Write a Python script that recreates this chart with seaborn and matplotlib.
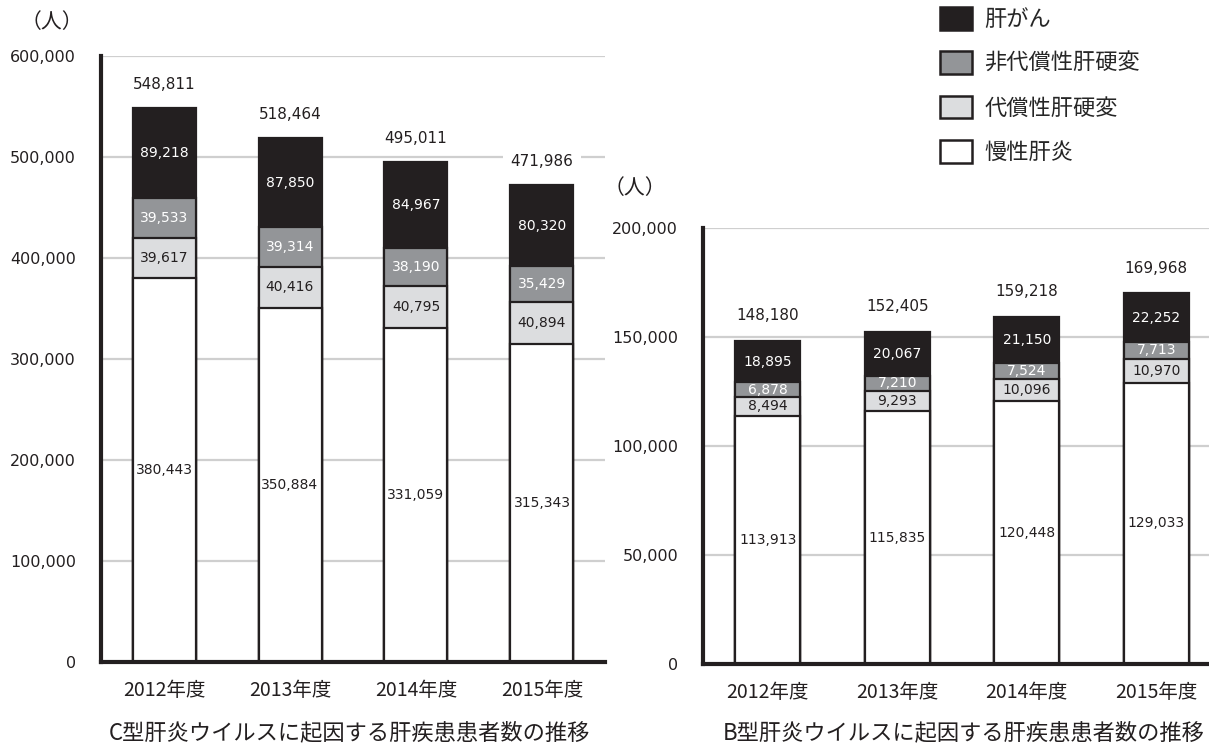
import numpy as np
import pandas as pd
import matplotlib
matplotlib.use("Agg")
import matplotlib.pyplot as plt
from matplotlib.patches import Patch
from matplotlib.ticker import FuncFormatter
import seaborn as sns

# ---- data -------------------------------------------------------------
years = ["2012年度", "2013年度", "2014年度", "2015年度"]
# stacking order: bottom -> top
series_names = ["慢性肝炎", "代償性肝硬変", "非代償性肝硬変", "肝がん"]

hcv_chronic = [380443, 350884, 331059, 315343]
hcv_compensated = [39617, 40416, 40795, 40894]
hcv_decompensated = [39533, 39314, 38190, 35429]
hcv_cancer = [89218, 87850, 84967, 80320]

hbv_chronic = [113913, 115835, 120448, 129033]
hbv_compensated = [8494, 9293, 10096, 10970]
hbv_decompensated = [6878, 7210, 7524, 7713]
hbv_cancer = [18895, 20067, 21150, 22252]

hcv_yticks = [0, 100000, 200000, 300000, 400000, 500000, 600000]
hbv_yticks = [0, 50000, 100000, 150000, 200000]

hcv_title = "C型肝炎ウイルスに起因する肝疾患患者数の推移"
hbv_title = "B型肝炎ウイルスに起因する肝疾患患者数の推移"
unit_label = "（人）"

# ---- style ------------------------------------------------------------
sns.set_style("white")
plt.rcParams["font.family"] = ["DejaVu Sans", "Noto Sans CJK JP"]
JP = ["Noto Sans CJK JP", "DejaVu Sans"]

INK = "#231f20"
FILLS = ["#ffffff", "#dcdddf", "#939598", "#231f20"]
TEXT_ON = [INK, INK, "#ffffff", "#ffffff"]
GRID = "#cfcfcf"

W, H = 1209, 746
fig = plt.figure(figsize=(W / 100, H / 100), dpi=100)


def px_axes(x0, y0, x1, y1):
    return fig.add_axes([x0 / W, 1 - y1 / H, (x1 - x0) / W, (y1 - y0) / H])


def draw_panel(ax, layers, yticks, total_offset):
    vals = np.array(layers, dtype=float)
    tops = np.cumsum(vals, axis=0)
    bottoms = tops - vals

    # stacked bars: draw the cumulative heights from the top layer down
    for i in reversed(range(len(layers))):
        df = pd.DataFrame({"year": years, "value": tops[i]})
        sns.barplot(data=df, x="year", y="value", color=FILLS[i], saturation=1,
                    width=0.5, edgecolor=INK, linewidth=1.6, errorbar=None, ax=ax)

    # segment labels
    for i in range(len(layers)):
        for j in range(len(years)):
            ax.text(j, bottoms[i, j] + vals[i, j] / 2, f"{int(vals[i, j]):,}",
                    ha="center", va="center", fontsize=10, color=TEXT_ON[i])

    # totals above bars
    for j in range(len(years)):
        total = int(tops[-1, j])
        ax.annotate(f"{total:,}", xy=(j, total), xytext=(0, total_offset),
                    textcoords="offset points", ha="center", va="center",
                    fontsize=11, color=INK,
                    bbox=dict(boxstyle="square,pad=0.5", fc="white", ec="none"))

    ax.set_ylim(yticks[0], yticks[-1])
    ax.set_xlim(-0.5, len(years) - 0.5)
    ax.set_yticks(yticks)
    ax.yaxis.set_major_formatter(FuncFormatter(lambda v, p: f"{int(v):,}"))
    ax.yaxis.grid(True, color=GRID, linewidth=1.6)
    ax.xaxis.grid(False)
    ax.set_axisbelow(True)

    ax.set_xticks(np.arange(len(years) + 1) - 0.5)
    ax.set_xticklabels([])
    ax.set_xticks(np.arange(len(years)), minor=True)
    ax.set_xticklabels(years, minor=True, fontsize=14, family=JP, color=INK)
    ax.tick_params(axis="x", which="major", length=5, width=3, color=INK,
                   direction="out")
    ax.tick_params(axis="x", which="minor", length=0, pad=13)
    ax.tick_params(axis="y", which="major", length=4, width=3, color=INK,
                   direction="out", pad=14, labelsize=11.5, labelcolor=INK)
    ax.set_xlabel("")
    ax.set_ylabel("")

    for side in ("top", "right"):
        ax.spines[side].set_visible(False)
    for side in ("left", "bottom"):
        ax.spines[side].set_linewidth(3)
        ax.spines[side].set_color(INK)
        ax.spines[side].set_zorder(5)


ax_c = px_axes(101, 56, 605, 662)
draw_panel(ax_c, [hcv_chronic, hcv_compensated, hcv_decompensated, hcv_cancer],
           hcv_yticks, 17)

ax_b = px_axes(703, 228, 1221, 664)
draw_panel(ax_b, [hbv_chronic, hbv_compensated, hbv_decompensated, hbv_cancer],
           hbv_yticks, 18)

# unit labels
fig.text(52 / W, 1 - 22 / H, unit_label, ha="center", va="center",
         fontsize=15, family=JP, color=INK)
fig.text(635 / W, 1 - 188 / H, unit_label, ha="center", va="center",
         fontsize=15, family=JP, color=INK)

# panel captions
fig.text(349 / W, 1 - 733 / H, hcv_title, ha="center", va="center",
         fontsize=16, family=JP, color=INK)
fig.text(964 / W, 1 - 733 / H, hbv_title, ha="center", va="center",
         fontsize=16, family=JP, color=INK)

# legend: top layer first
handles = [Patch(facecolor=FILLS[i], edgecolor=INK, linewidth=1.8,
                 label=series_names[i]) for i in reversed(range(4))]
fig.legend(handles=handles, loc="upper left",
           bbox_to_anchor=(940 / W, 1 - 7 / H), frameon=False,
           prop={"family": JP, "size": 16}, handlelength=1.45,
           handleheight=1.2, labelspacing=0.92, handletextpad=0.55,
           borderpad=0, borderaxespad=0)

fig.savefig("out.png", dpi=100)
